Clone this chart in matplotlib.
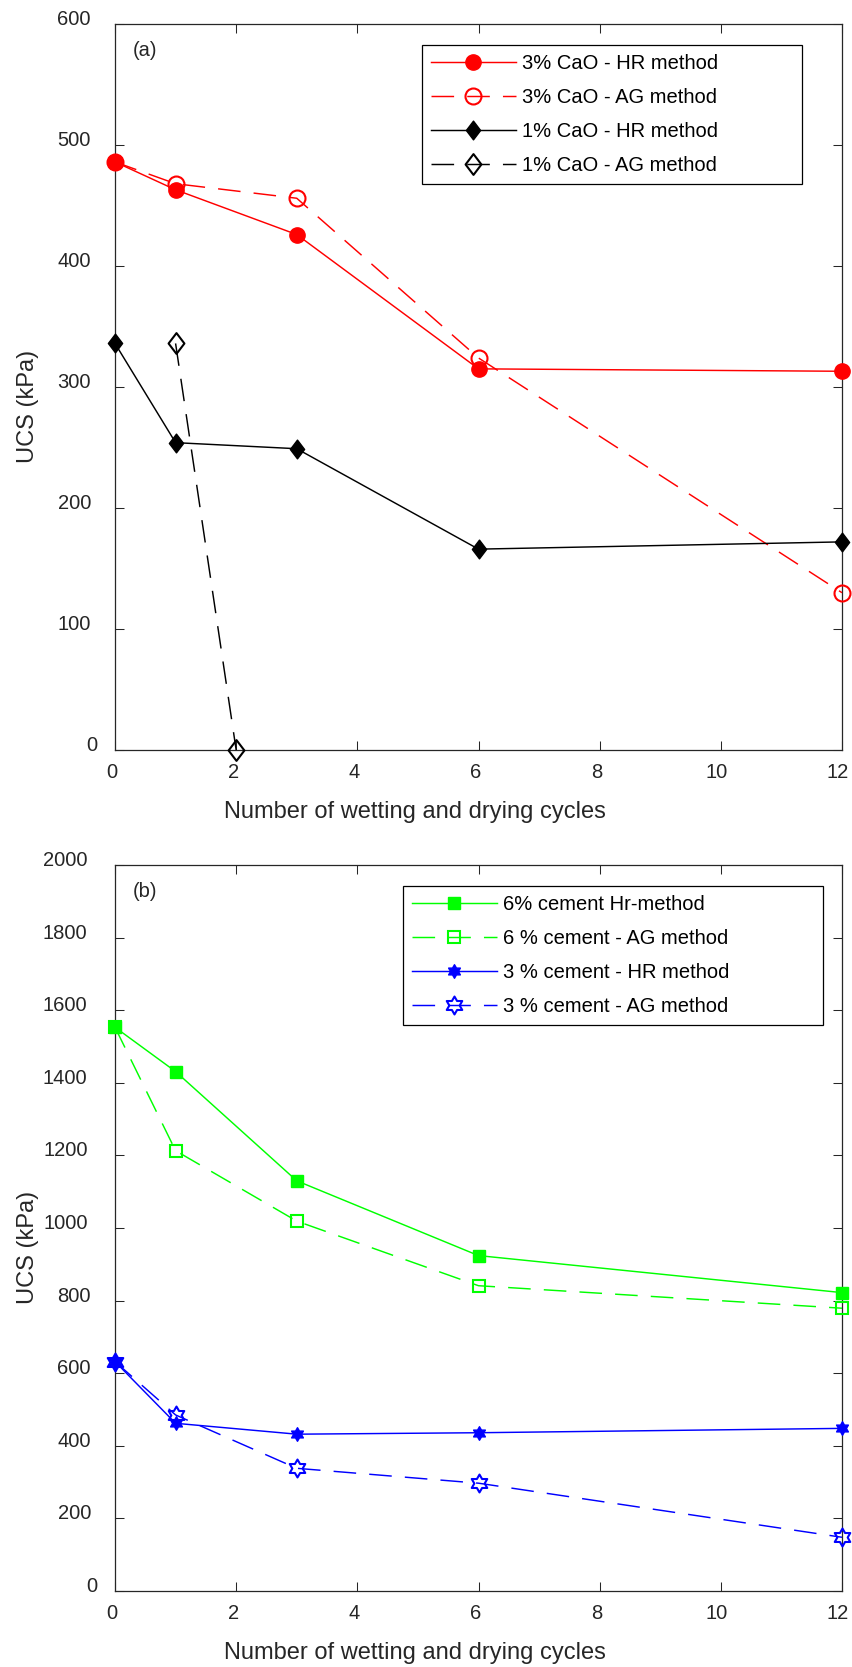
import numpy as np
import matplotlib
matplotlib.use('Agg')
import matplotlib.pyplot as plt
from matplotlib.path import Path
from matplotlib.transforms import ScaledTranslation

plt.rcParams['font.family'] = ['Liberation Sans', 'DejaVu Sans']

# ---------------- data ----------------
cycles = [0, 1, 3, 6, 12]
cao3_hr = [486, 463, 426, 315, 313]
cao3_ag = [486, 468, 456, 324, 130]
cao1_hr = [336, 254, 249, 166, 172]
cao1_ag_cycles = [1, 2]
cao1_ag = [336, 0]

cem6_hr = [1553, 1431, 1130, 924, 822]
cem6_ag = [1553, 1213, 1019, 841, 779]
cem3_hr = [632, 462, 432, 436, 448]
cem3_ag = [632, 485, 338, 297, 148]

labels_a = ['3% CaO - HR method', '3% CaO - AG method',
            '1% CaO - HR method', '1% CaO - AG method']
labels_b = ['6% cement Hr-method', '6 % cement - AG method',
            '3 % cement - HR method', '3 % cement - AG method']

xticks = [0, 2, 4, 6, 8, 10, 12]
yticks_a = [0, 100, 200, 300, 400, 500, 600]
yticks_b = [0, 200, 400, 600, 800, 1000, 1200, 1400, 1600, 1800, 2000]
xlabel = 'Number of wetting and drying cycles'
ylabel = 'UCS (kPa)'

# ---------------- markers ----------------
dv = [(0, 1), (0.76, 0), (0, -1), (-0.76, 0), (0, 1)]
diamond = Path(dv, closed=True)
hv = []
for k in range(12):
    ang = np.deg2rad(90 + 30 * k)
    r = 1.0 if k % 2 == 0 else 1 / np.sqrt(3)
    hv.append((r * np.cos(ang), r * np.sin(ang)))
hv.append(hv[0])
hexagram = Path(hv, closed=True)

DASH = (0, (15.5, 9))
AX_COL = '#262626'
FS = 14.5

fig = plt.figure(figsize=(8.52, 16.67), dpi=100)
L, W, H = 115 / 852, 727 / 852, 726 / 1667
ax1 = fig.add_axes([L, (1667 - 750) / 1667, W, H])
ax2 = fig.add_axes([L, (1667 - 1591) / 1667, W, H])


def series(ax, x, y, color, ls, marker, ms, filled, label):
    ax.plot(x, y, color=color, linestyle=ls, lw=1.05, marker=marker, ms=ms,
            mfc=color if filled else 'none', mec=color,
            mew=1.0 if filled else 1.5, clip_on=False, zorder=3, label=label)


series(ax1, cycles, cao3_hr, '#ff0000', '-', 'o', 11, True, labels_a[0])
series(ax1, cycles, cao3_ag, '#ff0000', DASH, 'o', 11.5, False, labels_a[1])
series(ax1, cycles, cao1_hr, '#000000', '-', diamond, 13.5, True, labels_a[2])
series(ax1, cao1_ag_cycles, cao1_ag, '#000000', DASH, diamond, 15, False, labels_a[3])

series(ax2, cycles, cem6_hr, '#00ff00', '-', 's', 8.3, True, labels_b[0])
series(ax2, cycles, cem6_ag, '#00ff00', DASH, 's', 8.7, False, labels_b[1])
series(ax2, cycles, cem3_hr, '#0000ff', '-', hexagram, 9.8, True, labels_b[2])
series(ax2, cycles, cem3_ag, '#0000ff', DASH, hexagram, 12.9, False, labels_b[3])

for ax, yt, ymax, tag, legx0, legx1 in [
        (ax1, yticks_a, 600, '(a)', 0.4219, 0.945),
        (ax2, yticks_b, 2000, '(b)', 0.3957, 0.9743)]:
    ax.set_xlim(0, 12)
    ax.set_ylim(0, ymax)
    ax.set_xticks(xticks, [str(t) for t in xticks])
    ax.set_yticks(yt, [str(t) for t in yt])
    ax.tick_params(which='both', direction='in', length=6.5, width=0.75,
                   top=True, right=True, color=AX_COL, labelcolor=AX_COL,
                   labelsize=FS)
    ax.tick_params(axis='y', pad=10)
    ax.tick_params(axis='x', pad=9)
    for s in ax.spines.values():
        s.set_linewidth(0.9)
        s.set_color(AX_COL)
    ax.set_xlabel(xlabel, fontsize=17, color=AX_COL)
    ax.set_ylabel(ylabel, fontsize=17, color=AX_COL)
    ax.xaxis.set_label_coords(0.412, -0.0854)
    ax.xaxis.label.set_va('center')
    ax.yaxis.set_label_coords(-0.1197, 0.473)
    ax.yaxis.label.set_va('center')
    ax.yaxis.label.set_ha('center')
    ax.text(0.0248, 0.964, tag, transform=ax.transAxes, ha='left',
            va='center', fontsize=FS, color=AX_COL)
    leg = ax.legend(loc='upper left',
                    bbox_to_anchor=(legx0, 0.777, legx1 - legx0, 0.971 - 0.777),
                    mode='expand', borderaxespad=0, fontsize=FS,
                    handlelength=4.22, handletextpad=0.32, borderpad=0.45,
                    labelspacing=0.74, numpoints=1, fancybox=False,
                    framealpha=1, edgecolor='black')
    leg.get_frame().set_linewidth(0.9)
    for t in leg.get_texts():
        t.set_color('#000000')

fig.canvas.draw()
for ax in (ax1, ax2):
    for tick in ax.yaxis.get_major_ticks():
        lab = tick.label1
        n = len(lab.get_text())
        off = ScaledTranslation(-3.4 * n / 100, 6.5 / 100, fig.dpi_scale_trans)
        lab.set_transform(lab.get_transform() + off)
    for tick in ax.xaxis.get_major_ticks():
        lab = tick.label1
        n = len(lab.get_text())
        dx = -3.0 if n == 1 else -4.2
        off = ScaledTranslation(dx / 100, 0, fig.dpi_scale_trans)
        lab.set_transform(lab.get_transform() + off)

fig.savefig('out.png', dpi=100)
